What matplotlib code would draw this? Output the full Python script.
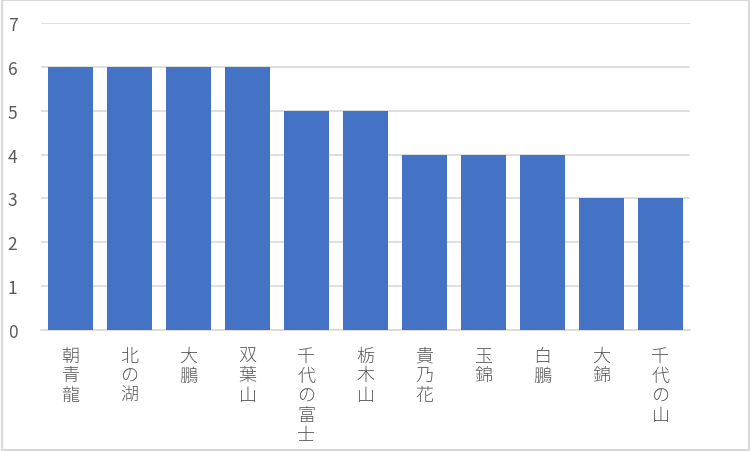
import matplotlib
matplotlib.use("Agg")
import matplotlib.pyplot as plt
from matplotlib.patches import Rectangle

# data
names = ['朝青龍', '北の湖', '大鵬', '双葉山', '千代の富士', '栃木山',
         '貴乃花', '玉錦', '白鵬', '大錦', '千代の山']
values = [6, 6, 6, 6, 5, 5, 4, 4, 4, 3, 3]
yticks = [0, 1, 2, 3, 4, 5, 6, 7]

plt.rcParams['font.family'] = ['Noto Sans CJK JP', 'DejaVu Sans']

W, H = 751, 452
fig = plt.figure(figsize=(W / 100, H / 100), dpi=100)
ax = fig.add_axes([41 / W, (H - 331) / H, (690 - 41) / W, (331 - 24) / H])

x = list(range(len(names)))
ax.bar(x, values, width=0.76, color='#4472C4', zorder=3)

ax.set_xlim(-0.5, len(names) - 0.5)
ax.set_ylim(0, 7)
ax.set_yticks(yticks)
ax.set_yticklabels([str(v) for v in yticks], fontsize=12.5)
ax.yaxis.grid(True, color='#d9d9d9', linewidth=1.2, zorder=0)

for s in ['top', 'right', 'left']:
    ax.spines[s].set_visible(False)
ax.spines['bottom'].set_color('#d9d9d9')
ax.spines['bottom'].set_linewidth(1.2)

ax.tick_params(axis='both', length=0, colors='#595959')
ax.tick_params(axis='y', pad=17)
ax.set_xticks(x)
ax.set_xticklabels(['\n'.join(n) for n in names], linespacing=1.13,
                   va='top', fontsize=13, fontweight='light')
ax.tick_params(axis='x', pad=12)

# outer frame
fig.patches.append(Rectangle((0.002, 0.003), 0.995, 0.994, transform=fig.transFigure,
                             fill=False, edgecolor='#d9d9d9', linewidth=1.5))

fig.savefig('out.png', dpi=100)
